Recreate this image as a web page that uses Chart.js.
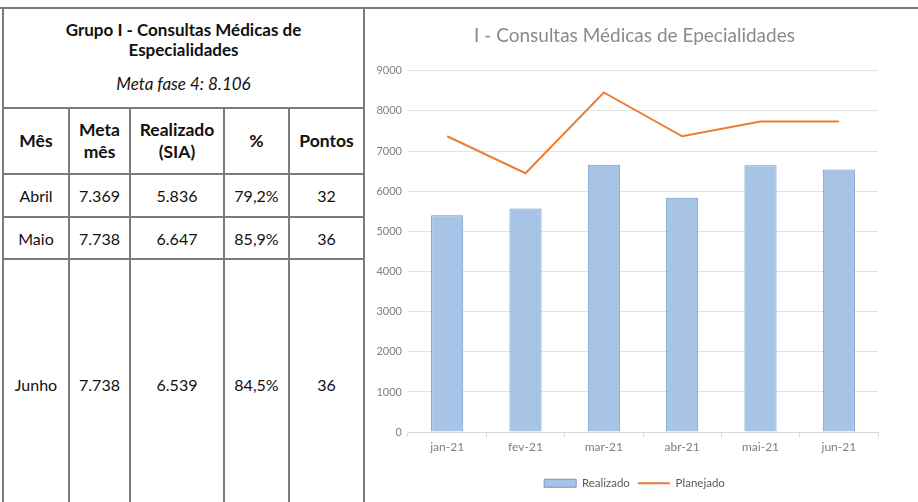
<!doctype html>
<html lang="pt">
<head>
<meta charset="utf-8">
<title>Consultas Médicas de Especialidades</title>
<script src="https://cdn.jsdelivr.net/npm/chart.js"></script>
<style>
  html, body { margin: 0; padding: 0; background: #fff; overflow: hidden; }
  body { width: 918px; height: 502px; position: relative; font-family: Lato, "Open Sans", sans-serif; }
  .topline { position: absolute; left: 0; top: 7px; width: 918px; height: 2px; background: #7a7a7a; }
  table.grupo {
    position: absolute; left: 2px; top: 7px;
    border-collapse: collapse; table-layout: fixed;
    font-size: 16px; color: #111;
  }
  table.grupo td { border: 2px solid #7a7a7a; text-align: center; vertical-align: middle; padding: 0; }
  .titulo { font-weight: bold; font-size: 17px; line-height: 20px; margin-top: -2px; }
  .meta { font-style: italic; font-size: 17px; margin-top: 13px; }
  .hdr td { font-weight: bold; font-size: 17.5px; line-height: 22px; }
  .chartbox { position: absolute; left: 365px; top: 9px; width: 553px; height: 493px; }
</style>
</head>
<body>
<div class="topline"></div>
<table class="grupo">
  <colgroup>
    <col style="width:66px"><col style="width:61px"><col style="width:94px"><col style="width:65px"><col style="width:75px">
  </colgroup>
  <tr style="height:100px">
    <td colspan="5">
      <div class="titulo">Grupo I - Consultas Médicas de<br>Especialidades</div>
      <div class="meta">Meta fase 4: 8.106</div>
    </td>
  </tr>
  <tr class="hdr" style="height:66px">
    <td>Mês</td><td>Meta<br>mês</td><td>Realizado<br>(SIA)</td><td>%</td><td>Pontos</td>
  </tr>
  <tbody id="linhas"></tbody>
</table>
<div class="chartbox"><canvas id="grafico"></canvas></div>

<script>
// tabela
const meses = ["Abril", "Maio", "Junho"];
const metaMes = ["7.369", "7.738", "7.738"];
const realizadoSIA = ["5.836", "6.647", "6.539"];
const percentual = ["79,2%", "85,9%", "84,5%"];
const pontos = ["32", "36", "36"];
const alturas = [43, 42, 250];

// grafico
const categorias = ["jan-21", "fev-21", "mar-21", "abr-21", "mai-21", "jun-21"];
const realizado = [5400, 5570, 6660, 5836, 6647, 6539];
const planejado = [7369, 6450, 8460, 7369, 7738, 7738];
const yTicks = [0, 1000, 2000, 3000, 4000, 5000, 6000, 7000, 8000, 9000];

const tbody = document.getElementById("linhas");
meses.forEach((m, i) => {
  const tr = document.createElement("tr");
  tr.style.height = alturas[i] + "px";
  [m, metaMes[i], realizadoSIA[i], percentual[i], pontos[i]].forEach(v => {
    const td = document.createElement("td");
    td.textContent = v;
    tr.appendChild(td);
  });
  tbody.appendChild(tr);
});

const cinza = "#7f7f7f";
const fonte = "Lato, 'Open Sans', sans-serif";

new Chart(document.getElementById("grafico"), {
  data: {
    labels: categorias,
    datasets: [
      {
        type: "line",
        label: "Planejado",
        data: planejado,
        borderColor: "#ed7d31",
        backgroundColor: "#ed7d31",
        borderWidth: 2,
        pointRadius: 0,
        tension: 0,
        order: 0,
        pointStyle: "line"
      },
      {
        type: "bar",
        label: "Realizado",
        data: realizado,
        backgroundColor: "#a7c4e7",
        borderColor: "#6f96c9",
        borderWidth: 1,
        barPercentage: 0.41,
        categoryPercentage: 1,
        order: 1,
        pointStyle: "rect"
      }
    ]
  },
  options: {
    responsive: true,
    maintainAspectRatio: false,
    animation: false,
    layout: { padding: { left: 0, right: 14, top: 4, bottom: 3 } },
    plugins: {
      title: {
        display: true,
        text: "I - Consultas Médicas de Epecialidades",
        color: "#8a8a8a",
        font: { family: fonte, size: 19, weight: "normal" },
        padding: { top: 11, bottom: 24 }
      },
      legend: {
        position: "bottom",
        reverse: true,
        labels: {
          color: "#595959",
          font: { family: fonte, size: 11.5 },
          usePointStyle: true,
          pointStyleWidth: 32,
          boxHeight: 8,
          padding: 8
        }
      },
      tooltip: { enabled: false }
    },
    scales: {
      x: {
        afterFit: s => { s.height += 12; },
        grid: { drawOnChartArea: false, drawTicks: true, tickLength: 5, color: "#d9d9d9" },
        border: { color: "#d9d9d9" },
        ticks: { color: cinza, font: { family: fonte, size: 12 }, padding: 3 }
      },
      y: {
        min: 0,
        max: 9000,
        afterBuildTicks: s => { s.ticks = yTicks.map(v => ({ value: v })); },
        afterFit: s => { s.width = 43; },
        grid: { color: "#e3e3e3", drawTicks: false },
        border: { display: false },
        ticks: { color: cinza, font: { family: fonte, size: 11 }, padding: 6, callback: v => String(v) }
      },
      margem: {
        type: "linear",
        position: "right",
        afterFit: s => { s.width = 26; },
        grid: { display: false },
        border: { display: false },
        ticks: { display: false }
      }
    }
  }
});
</script>
</body>
</html>
